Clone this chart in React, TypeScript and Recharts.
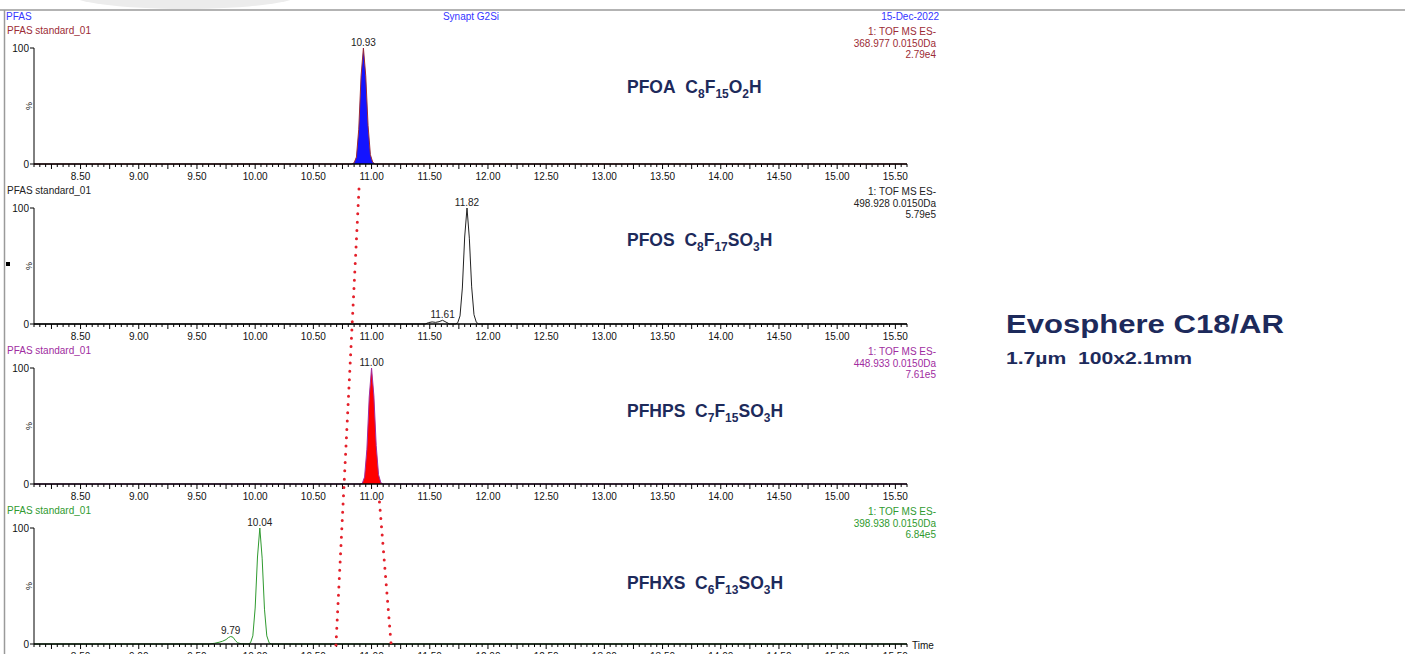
import React from "react"
import { ComposedChart, Area, XAxis, YAxis, ReferenceDot } from "recharts"

// page + axis geometry
const PAGE_W = 1405
const PAGE_H = 654
const CHART_W = 945
const CHART_H = 176
const X_AXIS_H = 32
const Y_AXIS_W = 34
const MARGIN_RIGHT = 38
const MARGIN_TOP = 28
const T_MIN = 8.1
const T_MAX = 15.6
const FONT = "'Liberation Sans', Arial, sans-serif"
const NAVY = "#1d2a5b"

const MAJOR_TICKS = [8.5, 9, 9.5, 10, 10.5, 11, 11.5, 12, 12.5, 13, 13.5, 14, 14.5, 15, 15.5]
const MAJOR_LABELS = ["8.50", "9.00", "9.50", "10.00", "10.50", "11.00", "11.50", "12.00", "12.50", "13.00", "13.50", "14.00", "14.50", "15.00", "15.50"]

// chromatogram traces (time in min, relative intensity %)
const pfoaTime = [8.1, 10.83, 10.85, 10.87, 10.89, 10.91, 10.93, 10.95, 10.97, 10.99, 11.01, 11.03, 15.6]
const pfoaInt = [0, 0, 1, 6, 30, 76, 100, 76, 33, 8, 1.5, 0, 0]

const pfosTime = [8.1, 11.46, 11.49, 11.52, 11.55, 11.58, 11.61, 11.64, 11.67, 11.72, 11.74, 11.76, 11.78, 11.8, 11.82, 11.84, 11.86, 11.88, 11.9, 11.92, 15.6]
const pfosInt = [0, 0, 1.2, 1.8, 1.4, 2.0, 3.2, 1.6, 0, 0, 1, 7, 31, 75, 100, 74, 32, 8, 1.5, 0, 0]

const pfhpsTime = [8.1, 10.9, 10.92, 10.94, 10.96, 10.98, 11.0, 11.02, 11.04, 11.06, 11.08, 11.1, 15.6]
const pfhpsInt = [0, 0, 0.5, 6, 30, 75, 100, 76, 33, 8, 1, 0, 0]

const pfhxsTime = [8.1, 9.6, 9.65, 9.69, 9.72, 9.75, 9.77, 9.79, 9.81, 9.83, 9.85, 9.88, 9.94, 9.96, 9.98, 10.0, 10.02, 10.04, 10.06, 10.08, 10.1, 10.12, 10.14, 15.6]
const pfhxsInt = [0, 0, 0.6, 1.5, 2.4, 3.8, 5.5, 6.5, 5.8, 3.0, 1.0, 0.2, 0, 1, 7, 31, 75, 100, 74, 30, 7, 1, 0, 0]

// labelled peaks
const pfoaPeakTimes = [10.93]
const pfoaPeakInts = [100]
const pfosPeakTimes = [11.61, 11.82]
const pfosPeakInts = [3.2, 100]
const pfhpsPeakTimes = [11.0]
const pfhpsPeakInts = [100]
const pfhxsPeakTimes = [9.79, 10.04]
const pfhxsPeakInts = [6.5, 100]

// header texts per trace
const sampleNames = ["PFAS standard_01", "PFAS standard_01", "PFAS standard_01", "PFAS standard_01"]
const massLines = ["368.977 0.0150Da", "498.928 0.0150Da", "448.933 0.0150Da", "398.938 0.0150Da"]
const maxLines = ["2.79e4", "5.79e5", "7.61e5", "6.84e5"]
const compoundNames = ["PFOA", "PFOS", "PFHPS", "PFHXS"]
const formulas = ["C_8F_15O_2H", "C_8F_17SO_3H", "C_7F_15SO_3H", "C_6F_13SO_3H"]

// red dotted guide lines (time at top, y top, time at bottom, y bottom)
const guideLines = [
  { t1: 10.892, y1: 189, t2: 10.694, y2: 645 },
  { t1: 11.068, y1: 502, t2: 11.167, y2: 643 },
]

const panels = [
  { top: 20, time: pfoaTime, ints: pfoaInt, pt: pfoaPeakTimes, pv: pfoaPeakInts, color: "#9c2b35", fill: "#1414ff", nameY: 93 },
  { top: 180, time: pfosTime, ints: pfosInt, pt: pfosPeakTimes, pv: pfosPeakInts, color: "#222222", fill: "none", nameY: 246 },
  { top: 340, time: pfhpsTime, ints: pfhpsInt, pt: pfhpsPeakTimes, pv: pfhpsPeakInts, color: "#a02ca0", fill: "#ff0000", nameY: 417 },
  { top: 500, time: pfhxsTime, ints: pfhxsInt, pt: pfhxsPeakTimes, pv: pfhxsPeakInts, color: "#2f9a2f", fill: "none", nameY: 589 },
]

const minorTicks: number[] = []
for (let i = 0; i <= 150; i++) minorTicks.push(Math.round((T_MIN + i * 0.05) * 100) / 100)

const plotW = CHART_W - Y_AXIS_W - MARGIN_RIGHT
function xPx(t: number) {
  return Y_AXIS_W + ((t - T_MIN) / (T_MAX - T_MIN)) * plotW
}

function TimeTick(props: any) {
  const { x, y, payload } = props
  const h = Math.round(payload.value * 100)
  const long = h % 25 === 0
  const idx = MAJOR_TICKS.findIndex((m) => Math.abs(m - payload.value) < 1e-6)
  return (
    <g>
      <line x1={x} x2={x} y1={y} y2={y + (long ? 5 : 3)} stroke="#000" strokeWidth={1} />
      {idx >= 0 && (
        <text x={x} y={y + 16} textAnchor="middle" fontSize={10} fontFamily={FONT} fill="#111">
          {MAJOR_LABELS[idx]}
        </text>
      )}
    </g>
  )
}

function PctTick(props: any) {
  const { x, y, payload } = props
  if (payload.value === 50) {
    return (
      <text x={x - 5} y={y} fontSize={9} fontFamily={FONT} fill="#111" textAnchor="middle"
        transform={`rotate(-90 ${x - 5} ${y})`} dominantBaseline="central">%</text>
    )
  }
  return (
    <g>
      <line x1={x - 4} x2={x} y1={y} y2={y} stroke="#000" strokeWidth={1} />
      <text x={x - 5} y={y + 3.5} textAnchor="end" fontSize={10} fontFamily={FONT} fill="#111">
        {payload.value}
      </text>
    </g>
  )
}

function Trace({ p }: { p: (typeof panels)[number] }) {
  const rows = p.time.map((t, i) => ({ t, v: p.ints[i] }))
  return (
    <div style={{ position: "absolute", left: 0, top: p.top }}>
      <ComposedChart width={CHART_W} height={CHART_H} data={rows}
        margin={{ top: MARGIN_TOP, right: MARGIN_RIGHT, left: 0, bottom: 0 }}>
        <XAxis dataKey="t" type="number" domain={[T_MIN, T_MAX]} ticks={minorTicks} interval={0}
          tickLine={false} tickSize={0} tickMargin={0} height={X_AXIS_H} allowDataOverflow
          axisLine={{ stroke: "#000", strokeWidth: 1.5 }} tick={(tp: any) => <TimeTick {...tp} />} />
        <YAxis type="number" domain={[0, 100]} ticks={[0, 50, 100]} width={Y_AXIS_W} interval={0}
          tickLine={false} tickSize={0} tickMargin={0} axisLine={{ stroke: "#000", strokeWidth: 1 }}
          tick={(tp: any) => <PctTick {...tp} />} />
        <Area type="linear" dataKey="v" stroke={p.color} strokeWidth={1} fill={p.fill}
          fillOpacity={p.fill === "none" ? 0 : 1} dot={false} activeDot={false} isAnimationActive={false} />
        {p.pt.map((t, i) => (
          <ReferenceDot key={t} x={t} y={p.pv[i]} r={1} fill="none" stroke="none" ifOverflow="visible"
            label={{ value: t.toFixed(2), position: "top", offset: 1, fontSize: 10, fill: "#222", fontFamily: FONT }} />
        ))}
      </ComposedChart>
    </div>
  )
}

function Formula({ x, y, name, formula }: { x: number; y: number; name: string; formula: string }) {
  const parts = formula.split(/_(\d+)/)
  const spans: React.ReactNode[] = []
  let down = false
  parts.forEach((s, i) => {
    if (!s) return
    const sub = i % 2 === 1
    const dy = sub && !down ? 5 : !sub && down ? -5 : 0
    down = sub
    spans.push(
      <tspan key={i} dy={dy} fontSize={sub ? 12 : 17.5}>{s}</tspan>
    )
  })
  return (
    <text x={x} y={y} fill={NAVY} fontFamily={FONT} fontWeight="bold" fontSize={17.5}>
      <tspan>{name + "\u00a0\u00a0"}</tspan>
      {spans}
    </text>
  )
}

export default function App() {
  return (
    <div style={{ position: "absolute", left: 0, top: 0, width: PAGE_W, height: PAGE_H, background: "#fff", overflow: "hidden" }}>
      {panels.map((p, i) => (
        <Trace key={i} p={p} />
      ))}
      <svg width={PAGE_W} height={PAGE_H} style={{ position: "absolute", left: 0, top: 0, pointerEvents: "none" }}>
        {/* faint shadow & frame */}
        <ellipse cx={185} cy={-6} rx={115} ry={15} fill="#ececec" />
        <line x1={0} x2={PAGE_W} y1={10} y2={10} stroke="#9a9a9a" strokeWidth={1.5} />
        <line x1={4.5} x2={4.5} y1={10} y2={PAGE_H} stroke="#9a9a9a" strokeWidth={1.5} />

        <g fontFamily={FONT} fontSize={10}>
          <text x={6} y={20} fill="#3535ff">PFAS</text>
          <text x={471} y={20} fill="#3535ff" textAnchor="middle">Synapt G2Si</text>
          <text x={939} y={20} fill="#3535ff" textAnchor="end">15-Dec-2022</text>
          {panels.map((p, i) => (
            <g key={i} fill={p.color}>
              <text x={7} y={p.top + 14}>{sampleNames[i]}</text>
              <text x={936} y={p.top + 15} textAnchor="end">1: TOF MS ES-</text>
              <text x={936} y={p.top + 27} textAnchor="end">{massLines[i]}</text>
              <text x={936} y={p.top + 38} textAnchor="end">{maxLines[i]}</text>
            </g>
          ))}
          <text x={912} y={649} fill="#111">Time</text>
        </g>
        <rect x={6} y={262} width={4} height={4} fill="#000" />

        {panels.map((p, i) => (
          <Formula key={i} x={627} y={p.nameY} name={compoundNames[i]} formula={formulas[i]} />
        ))}

        {guideLines.map((g, i) => (
          <line key={i} x1={xPx(g.t1)} y1={g.y1} x2={xPx(g.t2)} y2={g.y2} stroke="#e4202a"
            strokeWidth={3} strokeDasharray="0 8.3" strokeLinecap="round" />
        ))}

        <text x={1006} y={333} fill={NAVY} fontFamily={FONT} fontWeight="bold" fontSize={25.5}
          textLength={278} lengthAdjust="spacingAndGlyphs">Evosphere C18/AR</text>
        <text x={1006} y={364} fill={NAVY} fontFamily={FONT} fontWeight="bold" fontSize={16.5}
          textLength={186} lengthAdjust="spacingAndGlyphs">{"1.7µm\u00a0\u00a0100x2.1mm"}</text>
      </svg>
    </div>
  )
}
